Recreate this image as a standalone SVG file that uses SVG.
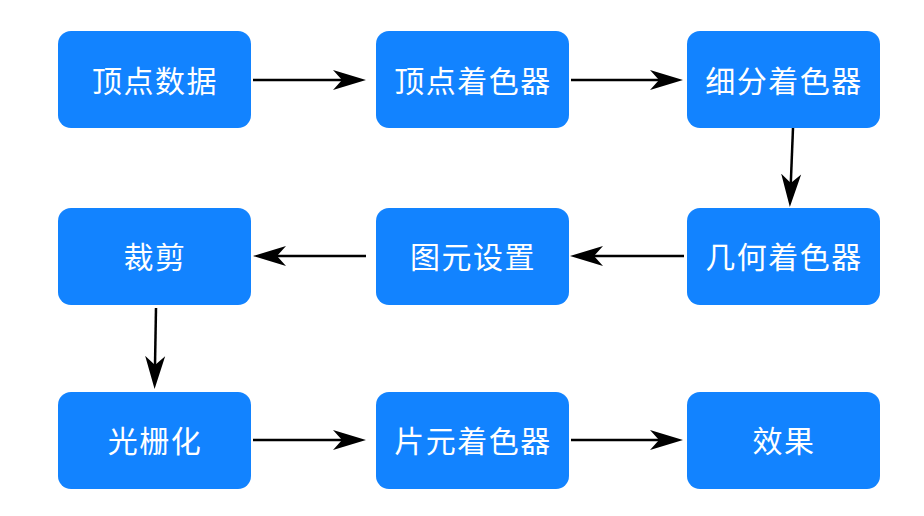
<svg xmlns="http://www.w3.org/2000/svg" width="924" height="516" viewBox="0 0 924 516">
<style>
.box{fill:#1283FF;}
.lbl{fill:#ffffff;font-family:"Noto Sans CJK SC","Noto Sans",sans-serif;font-size:30px;text-anchor:middle;letter-spacing:1.5px;}
.edge{stroke:#000000;stroke-width:2.5;fill:none;}
</style>
<defs>
<marker id="ah" markerUnits="userSpaceOnUse" markerWidth="34" markerHeight="24" viewBox="0 0 34 24" refX="9" refY="12" orient="auto">
<path d="M0,2 L33,12 L0,22 L9,12 Z" fill="#000000"/>
</marker>
</defs>
<rect width="924" height="516" fill="#ffffff"/>
<g id="n1"><rect class="box" x="58" y="31" width="193" height="97" rx="13"/><text class="lbl" x="155" y="91.5">顶点数据</text></g>
<g id="n2"><rect class="box" x="376" y="31" width="193" height="97" rx="13"/><text class="lbl" x="473" y="91.5">顶点着色器</text></g>
<g id="n3"><rect class="box" x="687" y="31" width="193" height="97" rx="13"/><text class="lbl" x="784" y="91.5">细分着色器</text></g>
<g id="n4"><rect class="box" x="687" y="208" width="193" height="97" rx="13"/><text class="lbl" x="784" y="267.5">几何着色器</text></g>
<g id="n5"><rect class="box" x="376" y="208" width="193" height="97" rx="13"/><text class="lbl" x="473" y="267.5">图元设置</text></g>
<g id="n6"><rect class="box" x="58" y="208" width="193" height="97" rx="13"/><text class="lbl" x="155" y="267.5">裁剪</text></g>
<g id="n7"><rect class="box" x="58" y="392" width="193" height="97" rx="13"/><text class="lbl" x="155" y="451.5">光栅化</text></g>
<g id="n8"><rect class="box" x="376" y="392" width="193" height="97" rx="13"/><text class="lbl" x="473" y="451.5">片元着色器</text></g>
<g id="n9"><rect class="box" x="687" y="392" width="193" height="97" rx="13"/><text class="lbl" x="784" y="451.5">效果</text></g>
<g id="edges">
<path class="edge" d="M253,80 L342,80" marker-end="url(#ah)"/>
<path class="edge" d="M571,80 L659,80" marker-end="url(#ah)"/>
<path class="edge" d="M793,128 L790.8,183" marker-end="url(#ah)"/>
<path class="edge" d="M684,256 L594,256" marker-end="url(#ah)"/>
<path class="edge" d="M366,256 L277,256" marker-end="url(#ah)"/>
<path class="edge" d="M156,308 L155,365" marker-end="url(#ah)"/>
<path class="edge" d="M253,440 L342,440" marker-end="url(#ah)"/>
<path class="edge" d="M571,440 L659,440" marker-end="url(#ah)"/>
</g>
</svg>
